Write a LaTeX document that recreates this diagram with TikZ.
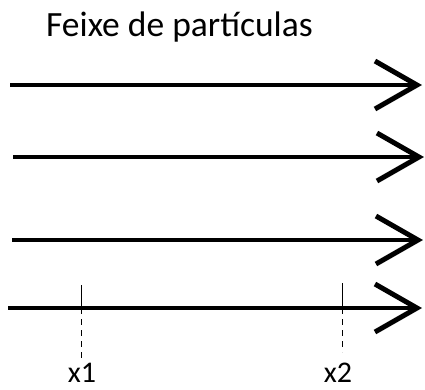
\documentclass[tikz,border=0pt]{standalone}
\usepackage{fontspec}
\setmainfont{Carlito}
\usetikzlibrary{arrows.meta}

\tikzset{
  beam/.style={line width=4pt,-{Straight Barb[length=42pt,width=48pt,line width=5pt]}},
  tick/.style={line width=1pt},
  guide/.style={line width=1pt,dash pattern=on 6pt off 5pt},
  titlefont/.style={font=\fontsize{35.5}{38}\selectfont,inner sep=0pt},
  label/.style={font=\fontsize{30}{32}\selectfont,inner sep=0pt}
}

\begin{document}
\begin{tikzpicture}[x=1pt,y=-1pt]
    \useasboundingbox (0,0) rectangle (425,389);
    \node[titlefont,anchor=base west] (titulo) at (46,36) {Feixe de partículas};
    % feixe
    \coordinate (a1) at (10,85);   \coordinate (b1) at (422,85);
    \coordinate (a2) at (13,157);  \coordinate (b2) at (424,157);
    \coordinate (a3) at (12,240);  \coordinate (b3) at (423,240);
    \coordinate (a4) at (8,308);   \coordinate (b4) at (422,308);
    \draw[beam] (a1) -- (b1);
    \draw[beam] (a2) -- (b2);
    \draw[beam] (a3) -- (b3);
    \draw[beam] (a4) -- (b4);
    % posicoes
    \coordinate (t1) at (81,285);  \coordinate (p1) at (81,308);  \coordinate (d1) at (81,360);
    \coordinate (t2) at (342,283); \coordinate (p2) at (342,308); \coordinate (d2) at (342,352);
    \draw[tick] (t1) -- (p1);
    \draw[guide] (p1) -- (d1);
    \draw[tick] (t2) -- (p2);
    \draw[guide] (p2) -- (d2);
    \node[label,anchor=base] (x1) at (82,382) {x1};
    \node[label,anchor=base] (x2) at (338,382) {x2};
  \end{tikzpicture}
\end{document}
